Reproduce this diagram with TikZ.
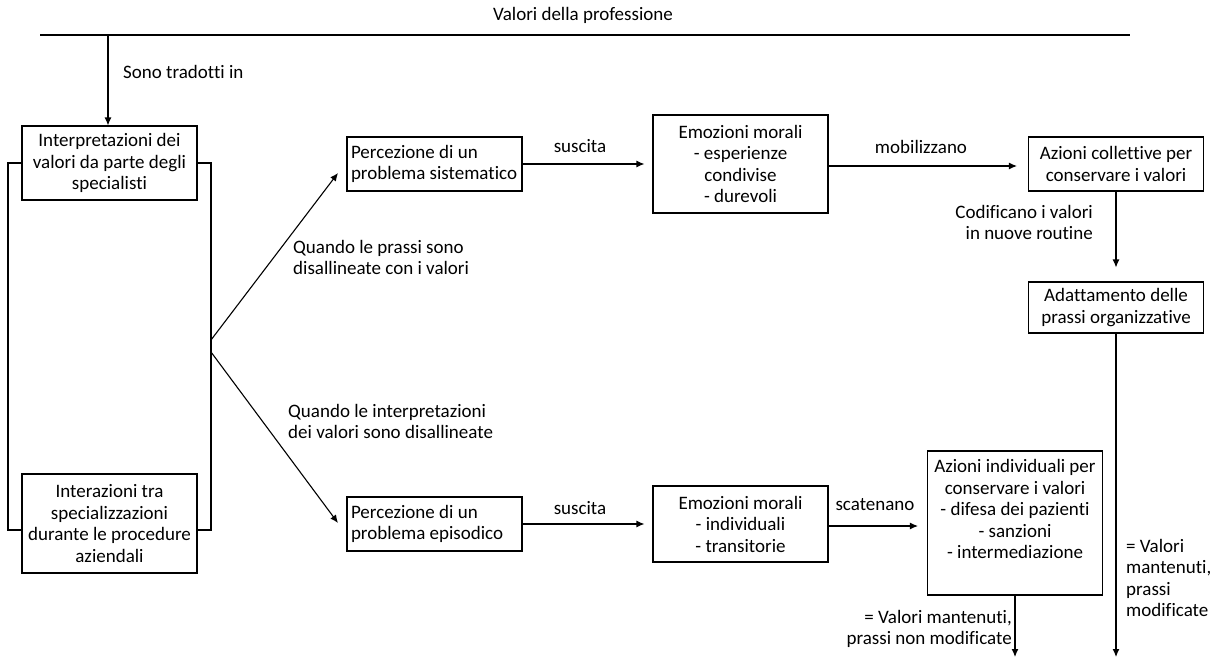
\documentclass[tikz,border=0pt]{standalone}
\usepackage{fontspec}
\setmainfont{Carlito}[Ligatures=NoCommon]
\usetikzlibrary{arrows.meta}
\begin{document}
\begin{tikzpicture}[x=1pt,y=-1pt,
  font=\fontsize{19}{21.5}\selectfont,
  box/.style={draw, line width=1.1pt, minimum width=175pt, inner sep=0pt, align=center},
  lbox/.style={draw, line width=1.1pt, minimum width=175pt, inner ysep=0pt, inner xsep=4pt, text width=167pt, align=flush left},
  arr/.style={line width=1.1pt, -{Latex[length=8pt,width=7pt]}},
  ln/.style={line width=1.1pt},
  lbl/.style={inner sep=0pt}]
\useasboundingbox (0,0) rectangle (1217,661);
% title and top line
\node[lbl] (title) at (583,15) {Valori della professione};
\coordinate (tl) at (40,35);
\coordinate (tr) at (1130,35);
\coordinate (tdown) at (108,35);
\draw[ln] (tl) -- (tr);
% left boxes
\node[box, minimum height=74pt] (i1) at (109.5,163) {Interpretazioni dei\\valori da parte degli\\specialisti};
\node[box, minimum height=99pt] (i2) at (109.5,523.5) {Interazioni tra\\specializzazioni\\durante le procedure\\aziendali};
\draw[arr] (tdown) -- (i1.north -| tdown);
\node[lbl, anchor=west] (sono) at (123,72) {Sono tradotti in};
% bracket
\coordinate (bl1) at (8,163); \coordinate (bl2) at (8,530);
\coordinate (br1) at (211,163); \coordinate (br2) at (211,530);
\draw[ln] (i1.west) -- (bl1) -- (bl2) -- (i2.west |- bl2);
\draw[ln] (i1.east) -- (br1) -- (br2) -- (i2.east |- br2);
% perception boxes
\node[lbox, minimum height=54pt] (p1) at (434.5,164) {Percezione di un\\problema sistematico};
\node[lbox, minimum height=54pt] (p2) at (434.5,524) {Percezione di un\\problema episodico};
\coordinate (s1) at (211,340); \coordinate (s2) at (211,352);
\coordinate (t1) at (338,173); \coordinate (t2) at (338,523);
\draw[arr] (s1) -- (t1);
\draw[arr] (s2) -- (t2);
\node[lbl, anchor=north west, align=left] (q1) at (293,240) {Quando le prassi sono\\disallineate con i valori};
\node[lbl, anchor=north west, align=left] (q2) at (288,404) {Quando le interpretazioni\\dei valori sono disallineate};
% emotions
\node[box, minimum height=98pt] (e1) at (740.5,164) {Emozioni morali\\- esperienze\\condivise\\- durevoli};
\node[box, minimum height=76pt] (e2) at (740.5,524) {Emozioni morali\\- individuali\\- transitorie};
\draw[arr, shorten >=8pt] (p1.east) -- (e1.west |- p1.east);
\draw[arr, shorten >=8pt] (p2.east) -- (e2.west |- p2.east);
\node[lbl] (su1) at (580,146) {suscita};
\node[lbl] (su2) at (580,508) {suscita};
% actions
\node[box, minimum height=54pt] (ac) at (1116,164) {Azioni collettive per\\conservare i valori};
\node[box, minimum height=51pt] (ad) at (1116,307.5) {Adattamento delle\\prassi organizzative};
\node[box, minimum height=144pt] (ai) at (1015,523) {Azioni individuali per\\conservare i valori\\- difesa dei pazienti\\- sanzioni\\- intermediazione\\ \strut};
\draw[arr, shorten >=11pt] (e1.east |- 0,166) -- (ac.west |- 0,166);
\node[lbl] (mob) at (921,147) {mobilizzano};
\draw[arr, shorten >=9pt] (e2.east |- 0,526) -- (ai.west |- 0,526);
\node[lbl] (sca) at (875,505) {scatenano};
\draw[arr, shorten >=14pt] (ac.south) -- (ad.north);
\node[lbl, anchor=north east, align=right] (cod) at (1093,205) {Codificano i valori\\in nuove routine};
\coordinate (end1) at (1015,657);
\coordinate (end2) at (1116,657);
\draw[arr] (ad.south) -- (end2);
\draw[arr] (ai.south) -- (end1);
\node[lbl, anchor=north west, align=left] (vm) at (1126,539) {= Valori\\mantenuti,\\prassi\\modificate};
\node[lbl, anchor=north east, align=right] (vn) at (1012,610) {= Valori mantenuti,\\prassi non modificate};
\end{tikzpicture}
\end{document}
